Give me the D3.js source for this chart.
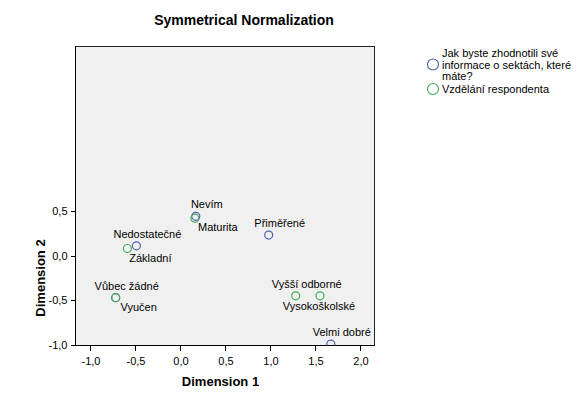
<!DOCTYPE html>
<html>
<head>
<meta charset="utf-8">
<script src="https://cdn.jsdelivr.net/npm/d3@7"></script>
<style>
  body { margin: 0; background: #fff; }
  svg text { font-family: Arial, "Liberation Sans", sans-serif; fill: #000; }
  .axis path, .axis line { stroke: #000; shape-rendering: crispEdges; }
  .axis text { font-size: 11px; }
</style>
</head>
<body>
<svg id="chart"></svg>
<script>
// Row points: "Jak byste zhodnotili své informace o sektách, které máte?"
const Q_LABELS = ["Nedostatečné", "Nevím", "Přiměřené", "Velmi dobré", "Vůbec žádné"];
const Q_DIM1   = [-0.49, 0.17, 0.98, 1.67, -0.72];
const Q_DIM2   = [0.11, 0.44, 0.23, -0.99, -0.47];

// Column points: "Vzdělání respondenta"
const E_LABELS = ["Základní", "Vyučen", "Maturita", "Vyšší odborné", "Vysokoškolské"];
const E_DIM1   = [-0.59, -0.72, 0.16, 1.28, 1.55];
const E_DIM2   = [0.08, -0.47, 0.42, -0.45, -0.45];

const SERIES_NAMES = [
  ["Jak byste zhodnotili své", "informace o sektách, které", "máte?"],
  ["Vzdělání respondenta"]
];

const X_TICKS = [-1, -0.5, 0, 0.5, 1, 1.5, 2];
const Y_TICKS = [-1, -0.5, 0, 0.5];

const TITLE  = "Symmetrical Normalization";
const X_NAME = "Dimension 1";
const Y_NAME = "Dimension 2";

// label placement (offset of label centre / baseline from the point)
const ABOVE = [11, -8];
const BELOW = [23, 13];
const LABEL_OFFSET = {
  "Nedostatečné": ABOVE, "Nevím": ABOVE, "Přiměřené": ABOVE, "Velmi dobré": ABOVE,
  "Vůbec žádné": ABOVE, "Základní": BELOW, "Vyučen": BELOW, "Maturita": BELOW,
  "Vyšší odborné": ABOVE, "Vysokoškolské": [-1, 14]
};

const COLORS = ["#4f64ab", "#45ab5a"];

const SVG_W = 582, SVG_H = 393;
const PLOT = { left: 75, right: 374, top: 46, bottom: 345 };
const DOT_R = 4;

const x = d3.scaleLinear().domain([-1.172, 2.15]).range([PLOT.left, PLOT.right]);
const y = d3.scaleLinear().domain([-1, 2.347]).range([PLOT.bottom, PLOT.top]);

const fmt = (d) => d3.format(".1f")(d).replace(".", ",").replace("−", "-");

const svg = d3.select("#chart").attr("width", SVG_W).attr("height", SVG_H);

// Title
svg.append("text")
  .attr("x", 244).attr("y", 25)
  .attr("text-anchor", "middle")
  .attr("font-size", 14).attr("font-weight", "bold")
  .text(TITLE);

// Plot background
svg.append("rect")
  .attr("x", PLOT.left + 0.5).attr("y", PLOT.top + 0.5)
  .attr("width", PLOT.right - PLOT.left).attr("height", PLOT.bottom - PLOT.top)
  .attr("fill", "#f0f0f0")
  .attr("stroke", "#222");

svg.append("clipPath").attr("id", "clip")
  .append("rect")
  .attr("x", PLOT.left).attr("y", PLOT.top)
  .attr("width", PLOT.right - PLOT.left + 1).attr("height", PLOT.bottom - PLOT.top + 0.5);

// Axes
svg.append("g")
  .attr("class", "axis")
  .attr("transform", `translate(0,${PLOT.bottom + 0.5})`)
  .call(d3.axisBottom(x).tickValues(X_TICKS).tickFormat(fmt).tickSize(5).tickSizeOuter(0).tickPadding(7))
  .call((g) => g.select(".domain").attr("d", `M${PLOT.left},0H${PLOT.right + 1}`));

svg.append("g")
  .attr("class", "axis")
  .attr("transform", `translate(${PLOT.left + 0.5},0)`)
  .call(d3.axisLeft(y).tickValues(Y_TICKS).tickFormat(fmt).tickSize(5).tickSizeOuter(0).tickPadding(3))
  .call((g) => g.select(".domain").attr("d", `M0,${PLOT.top}V${PLOT.bottom}`));

// Axis titles
svg.append("text")
  .attr("x", (PLOT.left + PLOT.right) / 2 - 4).attr("y", 386)
  .attr("text-anchor", "middle")
  .attr("font-size", 13).attr("font-weight", "bold")
  .text(X_NAME);

svg.append("text")
  .attr("transform", `translate(45,${(y(Y_TICKS[0]) + y(Y_TICKS[Y_TICKS.length - 1])) / 2}) rotate(-90)`)
  .attr("text-anchor", "middle")
  .attr("font-size", 13).attr("font-weight", "bold")
  .text(Y_NAME);

// Points
const qPoints = Q_LABELS.map((name, i) => ({ name, d1: Q_DIM1[i], d2: Q_DIM2[i], s: 0 }));
const ePoints = E_LABELS.map((name, i) => ({ name, d1: E_DIM1[i], d2: E_DIM2[i], s: 1 }));
const points = qPoints.concat(ePoints);

svg.append("g").attr("clip-path", "url(#clip)")
  .selectAll("circle")
  .data(points)
  .enter().append("circle")
  .attr("cx", (d) => x(d.d1))
  .attr("cy", (d) => y(d.d2))
  .attr("r", DOT_R)
  .attr("fill", "none")
  .attr("stroke", (d) => COLORS[d.s])
  .attr("stroke-width", 1.2);

svg.append("g")
  .selectAll("text")
  .data(points)
  .enter().append("text")
  .attr("x", (d) => x(d.d1) + LABEL_OFFSET[d.name][0])
  .attr("y", (d) => y(d.d2) + LABEL_OFFSET[d.name][1])
  .attr("text-anchor", "middle")
  .attr("font-size", 11)
  .text((d) => d.name);

// Legend
const legend = svg.append("g").attr("transform", "translate(433,0)");
const LEG_Y = [64.5, 89];
SERIES_NAMES.forEach((lines, i) => {
  legend.append("circle")
    .attr("cx", 0).attr("cy", LEG_Y[i])
    .attr("r", 5.5)
    .attr("fill", "none")
    .attr("stroke", COLORS[i])
    .attr("stroke-width", 1.2);
  const t = legend.append("text")
    .attr("x", 9)
    .attr("y", LEG_Y[i] + 4 - (lines.length - 1) * 11.5 / 2)
    .attr("font-size", 11);
  lines.forEach((line, j) => {
    t.append("tspan").attr("x", 9).attr("dy", j ? 11.5 : 0).text(line);
  });
});
</script>
</body>
</html>
